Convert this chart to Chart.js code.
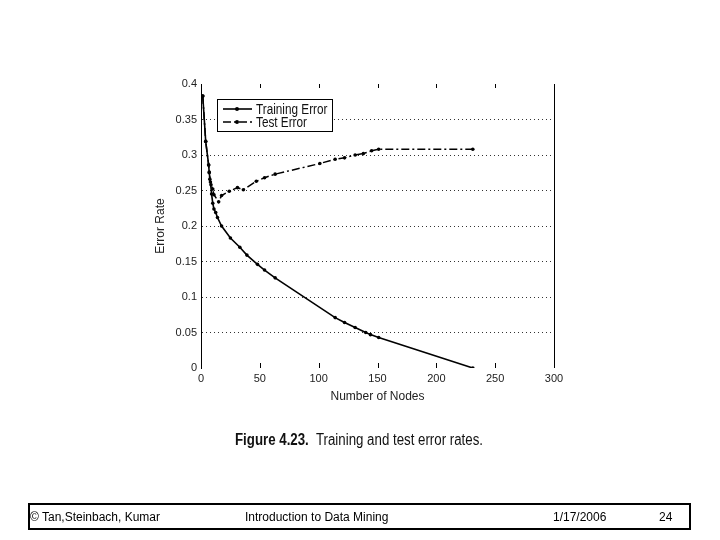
<!DOCTYPE html>
<html>
<head>
<meta charset="utf-8">
<script src="https://cdn.jsdelivr.net/npm/chart.js@4.4.1/dist/chart.umd.min.js"></script>
<style>
  body { margin: 0; background: #fff; }
  #wrap { position: relative; width: 720px; height: 540px; }
  #myChart { position: absolute; left: 0; top: 0; }
  .caption { position: absolute; left: 235px; top: 431px; font-family: "Liberation Sans", Arial, sans-serif; font-size: 16px; color: #111; white-space: nowrap; transform: scaleX(0.83); transform-origin: left top; }
  .caption b { font-weight: bold; }
  .footer { position: absolute; left: 28px; top: 503px; width: 659px; height: 23px; border: 2px solid #000; font-family: "Liberation Sans", Arial, sans-serif; font-size: 12px; color: #000; }
  .footer span { position: absolute; top: 5px; white-space: nowrap; }
</style>
</head>
<body>
<div id="wrap">
  <canvas id="myChart" width="720" height="540"></canvas>
  <div class="caption"><b>Figure 4.23.</b>&nbsp; Training and test error rates.</div>
  <div class="footer">
    <span style="left:0px">© Tan,Steinbach, Kumar</span>
    <span style="left:215px">Introduction to Data Mining</span>
    <span style="left:523px">1/17/2006</span>
    <span style="left:629px">24</span>
  </div>
</div>
<script>
///// data

const trainNodes = [1.5, 4, 6.5, 7, 8, 9, 10, 11, 12.5, 14, 17.5, 25, 33, 39, 48, 54, 63, 114, 122, 131, 140, 144, 151, 231];
const trainErr = [0.383, 0.319, 0.286, 0.275, 0.262, 0.245, 0.232, 0.224, 0.219, 0.212, 0.200, 0.183, 0.170, 0.159, 0.146, 0.138, 0.127, 0.071, 0.064, 0.057, 0.050, 0.047, 0.043, 0.0];

const testNodes = [1.5, 4, 6.5, 7, 7.5, 8.5, 10, 11, 15, 17.5, 24, 31, 36, 47, 54, 63, 101, 114, 122, 131, 138, 145, 151, 231];
const testErr = [0.383, 0.319, 0.286, 0.276, 0.266, 0.258, 0.252, 0.244, 0.234, 0.243, 0.249, 0.254, 0.251, 0.263, 0.268, 0.273, 0.288, 0.294, 0.296, 0.300, 0.302, 0.306, 0.308, 0.308];

const xTicks = [0, 50, 100, 150, 200, 250, 300];
const yTicks = [0, 0.05, 0.1, 0.15, 0.2, 0.25, 0.3, 0.35, 0.4];
const legendLabels = ['Training Error', 'Test Error'];

const toPoints = (xs, ys) => xs.map((x, i) => ({ x: x, y: ys[i] }));
const testDash = [8, 3, 2, 3];

// right border, inward ticks, legend box
const framePlugin = {
  id: 'frame',
  afterDraw(chart) {
    const { ctx, chartArea: a, scales } = chart;
    ctx.save();
    ctx.strokeStyle = '#000';
    ctx.lineWidth = 1;
    ctx.beginPath();
    ctx.moveTo(Math.round(a.right) + 0.5, a.top);
    ctx.lineTo(Math.round(a.right) + 0.5, a.bottom);
    xTicks.forEach((v) => {
      const px = Math.round(scales.x.getPixelForValue(v)) + 0.5;
      ctx.moveTo(px, a.bottom);
      ctx.lineTo(px, a.bottom - 5);
      ctx.moveTo(px, a.top);
      ctx.lineTo(px, a.top + 4);
    });
    ctx.stroke();

    // legend
    const bx = 217, by = 99, bw = 115, bh = 32;
    ctx.fillStyle = '#fff';
    ctx.fillRect(bx, by, bw, bh);
    ctx.strokeRect(bx + 0.5, by + 0.5, bw, bh);
    chart.data.datasets.forEach((ds, i) => {
      const ly = by + 10 + i * 13;
      ctx.beginPath();
      ctx.setLineDash(ds.borderDash || []);
      ctx.lineWidth = ds.borderWidth;
      ctx.moveTo(bx + 6, ly);
      ctx.lineTo(bx + 35, ly);
      ctx.stroke();
      ctx.setLineDash([]);
      ctx.beginPath();
      ctx.fillStyle = '#000';
      ctx.arc(bx + 20, ly, 2, 0, Math.PI * 2);
      ctx.fill();
      ctx.save();
      ctx.translate(bx + 39, ly + 1);
      ctx.scale(0.84, 1);
      ctx.font = '14px "Liberation Sans", Arial, sans-serif';
      ctx.textBaseline = 'middle';
      ctx.fillStyle = '#111';
      ctx.fillText(legendLabels[i], 0, 0);
      ctx.restore();
    });
    ctx.restore();
  },
};

const ctx = document.querySelector('#myChart').getContext('2d');

const config = {
  type: 'line',
  data: {
    datasets: [
      {
        label: legendLabels[0],
        data: toPoints(trainNodes, trainErr),
        borderColor: '#000',
        backgroundColor: '#000',
        borderWidth: 1.6,
        pointRadius: 1.8,
        pointBorderWidth: 0,
        tension: 0,
      },
      {
        label: legendLabels[1],
        data: toPoints(testNodes, testErr),
        borderColor: '#000',
        backgroundColor: '#000',
        borderWidth: 1.5,
        borderDash: testDash,
        pointRadius: 1.8,
        pointBorderWidth: 0,
        tension: 0,
      },
    ],
  },
  options: {
    responsive: false,
    animation: false,
    devicePixelRatio: 1,
    layout: { padding: { left: 141, right: 166, top: 84, bottom: 132 } },
    plugins: { legend: { display: false }, tooltip: { enabled: false } },
    scales: {
      x: {
        type: 'linear',
        min: 0,
        max: 300,
        afterFit: (s) => { s.height = 40; },
        afterBuildTicks: (s) => { s.ticks = xTicks.map((v) => ({ value: v })); },
        grid: { display: false, drawTicks: false },
        border: { display: false },
        ticks: { color: '#222', padding: 4, maxRotation: 0, font: { family: 'Liberation Sans', size: 11 } },
        title: { display: true, text: 'Number of Nodes', color: '#222', padding: { top: 1 }, font: { family: 'Liberation Sans', size: 12 } },
      },
      y: {
        min: 0,
        max: 0.4,
        afterFit: (s) => { s.width = 60; },
        afterBuildTicks: (s) => { s.ticks = yTicks.map((v) => ({ value: v })); },
        grid: {
          drawTicks: false,
          color: (c) => (c.tick && (c.tick.value === 0 || c.tick.value === 0.4) ? 'rgba(0,0,0,0)' : '#333'),
          lineWidth: 1,
        },
        border: { display: true, color: '#000', width: 1, dash: [1, 3] },
        ticks: {
          color: '#222',
          padding: 4,
          font: { family: 'Liberation Sans', size: 11 },
          callback: (v) => String(Math.round(v * 100) / 100),
        },
        title: { display: true, text: 'Error Rate', color: '#222', padding: { top: 12, bottom: 0 }, font: { family: 'Liberation Sans', size: 12 } },
      },
    },
  },
  plugins: [framePlugin],
};

const myChart = new Chart(ctx, config);
</script>
</body>
</html>
